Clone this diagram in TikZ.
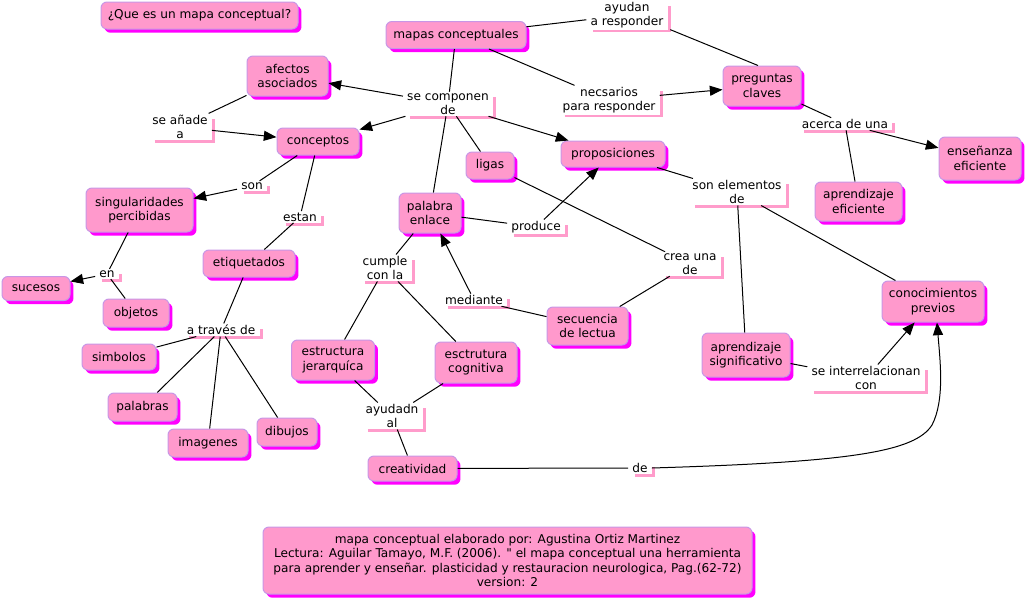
\documentclass[tikz,border=0pt]{standalone}
\usepackage{fontspec}
\setmainfont{DejaVu Sans}[Ligatures=TeXOff]
\usetikzlibrary{shadows,arrows.meta}
\definecolor{boxfill}{HTML}{FF99CC}
\definecolor{boxdraw}{HTML}{C896E6}
\definecolor{boxshadow}{HTML}{FF00FF}
\definecolor{lpink}{HTML}{FF9CCB}
\newcommand\lpn[3]{\node[lp] (#1) at (#2) {#3};
\draw[lpsh] ([xshift=5pt,yshift=-1pt]#1.south west) -- ([xshift=1.2pt,yshift=-1pt]#1.south east) -- ([xshift=1.2pt,yshift=-4pt]#1.north east);}
\begin{document}
\begin{tikzpicture}[x=0.75pt,y=-0.75pt, font=\fontsize{9.1}{10.8}\selectfont,
 cbox/.style={draw=boxdraw, fill=boxfill, rounded corners=4.5pt, line width=0.75pt, align=center, inner sep=1pt,
   drop shadow={shadow xshift=2.6pt, shadow yshift=-2.8pt, fill=boxshadow, opacity=1, draw=none}},
 bw/.style={minimum width=#1*0.75pt}, bh/.style={minimum height=#1*0.75pt},
 lp/.style={align=center, inner xsep=3pt, inner ysep=1pt},
 lpsh/.style={draw=lpink, line width=2.2pt},
 con/.style={draw=black, line width=0.75pt},
 arr/.style={con, -{Triangle[length=9.5pt,width=7.5pt]}}]
\useasboundingbox (0,0) rectangle (1025,603);
% concepts
\node[cbox,bw=197,bh=27] (q) at (199.5,15.5) {¿Que es un mapa conceptual?};
\node[cbox,bw=140,bh=27] (mc) at (456,35) {mapas conceptuales};
\node[cbox,bw=81,bh=40] (af) at (287.5,76) {afectos\\asociados};
\node[cbox,bw=82,bh=27] (co) at (318,141.5) {conceptos};
\node[cbox,bw=78,bh=40] (pc) at (762,86) {preguntas\\claves};
\node[cbox,bw=82,bh=43] (ee) at (980,158.5) {enseñanza\\eficiente};
\node[cbox,bw=104,bh=26] (pr) at (613,154) {proposiciones};
\node[cbox,bw=48,bh=27] (li) at (490,165.5) {ligas};
\node[cbox,bw=107,bh=44] (sp) at (139.5,210) {singularidades\\percibidas};
\node[cbox,bw=62,bh=40] (pe) at (430,213) {palabra\\enlace};
\node[cbox,bw=87,bh=39] (ae) at (858.5,201.5) {aprendizaje\\eficiente};
\node[cbox,bw=92,bh=27] (et) at (249,263.5) {etiquetados};
\node[cbox,bw=68,bh=24] (su) at (36,288.5) {sucesos};
\node[cbox,bw=66,bh=28] (ob) at (136,313) {objetos};
\node[cbox,bw=102,bh=41] (cp) at (933,301.5) {conocimientos\\previos};
\node[cbox,bw=81,bh=38] (sl) at (587.5,326) {secuencia\\de lectua};
\node[cbox,bw=74,bh=26] (si) at (119,357) {simbolos};
\node[cbox,bw=83,bh=40] (ej) at (333,360) {estructura\\jerarquíca};
\node[cbox,bw=82,bh=41] (ec) at (476,362.5) {esctrutura\\cognitiva};
\node[cbox,bw=88,bh=44] (as) at (746,355) {aprendizaje\\significativo};
\node[cbox,bw=69,bh=28] (pa) at (142.5,407) {palabras};
\node[cbox,bw=80,bh=28] (im) at (208,443) {imagenes};
\node[cbox,bw=60,bh=28] (di) at (287,432) {dibujos};
\node[cbox,bw=89,bh=25] (cr) at (412.5,468.5) {creatividad};
\node[cbox,bw=489,bh=67] (ft) at (507.5,560.5) {mapa conceptual elaborado por: Agustina Ortiz Martinez\\Lectura: Aguilar Tamayo, M.F. (2006). " el mapa conceptual una herramienta\\para aprender y enseñar. plasticidad y restauracion neurologica, Pag.(62-72)\\version: 2};
% linking phrases
\lpn{ar}{627,15}{ayudan\\a responder}
\lpn{scd}{448,104}{se componen\\de}
\lpn{nr}{609,100}{necsarios\\para responder}
\lpn{sa}{180,127}{se añade\\a}
\lpn{son}{252,186}{son}
\lpn{es}{300,217}{estan}
\lpn{en}{107,274}{en}
\lpn{at}{221,330}{a través de}
\lpn{acu}{845,124}{acerca de una}
\lpn{sed}{737,192}{son elementos\\de}
\lpn{prd}{536,227}{produce}
\lpn{cl}{385,268}{cumple\\con la}
\lpn{cu}{690,264}{crea una\\de}
\lpn{me}{474,300}{mediante}
\lpn{si2}{866,378}{se interrelacionan\\con}
\lpn{ay}{392,416}{ayudadn\\al}
\lpn{de}{640,468}{de}
% connectors
\draw[con] (mc) -- (ar);
\draw[con] ([xshift=2pt]ar.south east) -- ([xshift=-3pt]pc.north);
\draw[con] (mc) -- (nr);
\draw[arr] (nr) -- (pc);
\draw[con] (mc) -- (scd);
\draw[arr] (scd) -- (af);
\draw[arr] (scd) -- (co);
\draw[arr] (scd) -- (pr);
\draw[con] (scd) -- (li);
\draw[con] (scd) -- (pe);
\draw[con] (af) -- (sa);
\draw[arr] (sa) -- (co);
\draw[con] (co) -- (son);
\draw[arr] (son) -- (sp);
\draw[con] (co) -- (es);
\draw[con] (es) -- (et);
\draw[con] (sp) -- (en);
\draw[arr] (en) -- (su);
\draw[con] (en) -- (ob);
\draw[con] (et) -- (at);
\draw[con] (at) -- (si);
\draw[con] (at) -- (pa);
\draw[con] (at) -- (im);
\draw[con] (at) -- (di);
\draw[con] (pe) -- (prd);
\draw[arr] (prd) -- (pr);
\draw[con] (li) -- (cu);
\draw[con] (cu) -- (sl);
\draw[con] (sl) -- (me);
\draw[arr] (me) -- (pe);
\draw[con] (pe) -- (cl);
\draw[con] (cl) -- (ej);
\draw[con] (cl) -- (ec);
\draw[con] (ej) -- (ay);
\draw[con] (ec) -- (ay);
\draw[con] (ay) -- (cr);
\draw[con] (cr) -- (de);
\draw[arr] (de.east) .. controls (850,462) and (915,452) .. (932,425) .. controls (945,400) and (940,360) .. ([xshift=3pt]cp.south);
\draw[con] (pr) -- (sed);
\draw[con] (sed) -- (as);
\draw[con] (sed) -- (cp);
\draw[con] (as) -- (si2);
\draw[arr] (si2) -- (cp);
\draw[con] (pc) -- (acu);
\draw[arr] (acu) -- (ee);
\draw[con] (acu) -- (ae);
\end{tikzpicture}
\end{document}
